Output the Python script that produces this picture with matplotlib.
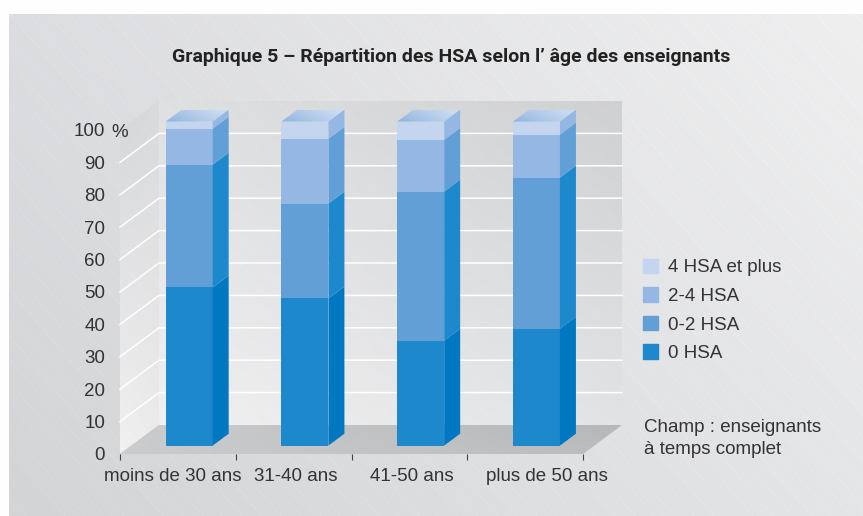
import numpy as np
import matplotlib
matplotlib.use('Agg')
import matplotlib.pyplot as plt
from matplotlib.patches import Patch, Polygon
from matplotlib.colors import to_rgb

categories = ['moins de 30 ans', '31-40 ans', '41-50 ans', 'plus de 50 ans']
hsa_0 = [48.8, 45.4, 32.4, 36.1]
hsa_0_2 = [37.9, 29.3, 46.0, 46.6]
hsa_2_4 = [11.1, 20.0, 16.0, 13.3]
hsa_4_plus = [2.2, 5.3, 5.6, 4.0]
series_names = ['0 HSA', '0-2 HSA', '2-4 HSA', '4 HSA et plus']
y_ticks = [0, 10, 20, 30, 40, 50, 60, 70, 80, 90, 100]

plt.rcParams['font.family'] = ['Liberation Sans', 'DejaVu Sans']
TXT = '#333333'

# couleurs face avant / cote
front = ['#1e88cc', '#629fd6', '#94b8e3', '#c4d6ef']
side = ['#0078c1', '#1e88cc', '#629fd6', '#94b8e3']

W, H = 863, 516
PX_X, PX_Y = 115.75, 3.24        # pixels par categorie / par point de %
LEFT, ZERO = 120, 454
DX, DY = 39 / PX_X, 29 / PX_Y    # decalage de la profondeur 3D
D0, D_BAR = 0.29, 0.41
BAR_W = 0.406


def shade(tl, tr, bl, br, w, h, streak=4.0):
    # degrade bilineaire + fines rayures diagonales
    yy, xx = np.mgrid[0:h, 0:w]
    u = (xx / max(w - 1, 1))[..., None]
    v = (yy / max(h - 1, 1))[..., None]
    tl, tr, bl, br = [np.array(to_rgb(c)) for c in (tl, tr, bl, br)]
    img = (1 - v) * ((1 - u) * tl + u * tr) + v * ((1 - u) * bl + u * br)
    if streak:
        k = (xx * 1.17 - yy) % 23
        mask = (k < 1.0)[..., None]
        img = np.clip(img + mask * streak / 255, 0, 1)
    return img


fig = plt.figure(figsize=(W / 100, H / 100), dpi=100, facecolor='#fefefe')
fig.figimage(shade('#dcdde0', '#efeff0', '#d3d4d6', '#e4e5e7', W - 9, H - 14, 5),
             xo=9, yo=0, origin='upper', zorder=0)

# axe de fond pleine figure, meme echelle que l'axe principal
bg = fig.add_axes([0, 0, 1, 1], zorder=1)
bg.patch.set_visible(False)
bg.set_axis_off()
bg.set_xlim(-LEFT / PX_X, (W - LEFT) / PX_X)
bg.set_ylim(-(H - ZERO) / PX_Y, ZERO / PX_Y)


def grad_poly(xs, ys, img, zorder=1):
    im = bg.imshow(img, extent=(min(xs), max(xs), min(ys), max(ys)),
                   origin='upper', aspect='auto', interpolation='bilinear',
                   zorder=zorder)
    im.set_clip_path(Polygon(np.c_[xs, ys], closed=True, transform=bg.transData))


# mur du fond
grad_poly([DX, 4 + DX, 4 + DX, DX], [DY, DY, 100 + DY, 100 + DY],
          shade('#dfe0e2', '#cfd0d1', '#f0f0f1', '#e2e3e4', 464, 324, 3))
# mur de gauche
grad_poly([0, DX, DX, 0], [0, DY, 100 + DY, 100],
          shade('#d5d6d8', '#d9dadb', '#f1f1f2', '#ececed', 39, 353, 3))
# sol
grad_poly([0, 4, 4 + DX, DX], [0, 0, DY, DY],
          shade('#cbccce', '#b6b7b9', '#cbccce', '#bbbcbe', 503, 29, 0))

for v in y_ticks[1:-1]:
    bg.plot([0, DX, 4 + DX], [v, v + DY, v + DY], color='white', lw=1.1, zorder=2,
            solid_joinstyle='miter')

# dessus des barres (degrade)
for i in range(len(categories)):
    x0 = i + 0.5 - BAR_W / 2 + D0 * DX
    y0 = 100 + D0 * DY
    xs = [x0, x0 + BAR_W, x0 + BAR_W + D_BAR * DX, x0 + D_BAR * DX]
    ys = [y0, y0, y0 + D_BAR * DY, y0 + D_BAR * DY]
    img = shade('#a7c3e6', '#cfdff2', '#8db4e0', '#c4d6ef', 63, 12, 0)
    grad_poly(xs, ys, img, zorder=3)

# axe principal : barres empilees
ax = fig.add_axes([LEFT / W, (H - ZERO) / H, 4 * PX_X / W, 100 * PX_Y / H], zorder=2)
ax.patch.set_visible(False)
ax.set_xlim(0, 4)
ax.set_ylim(0, 100)
for s in ax.spines.values():
    s.set_visible(False)

x = np.arange(len(categories)) + 0.5 + D0 * DX
bottom = np.full(len(categories), D0 * DY)
for vals, name, cf, cs in zip([hsa_0, hsa_0_2, hsa_2_4, hsa_4_plus], series_names, front, side):
    vals = np.array(vals)
    ax.bar(x, vals, BAR_W, bottom=bottom, color=cf, label=name, clip_on=False, zorder=3)
    for xi, b, t in zip(x, bottom, bottom + vals):
        r = xi + BAR_W / 2
        ax.fill([r, r + D_BAR * DX, r + D_BAR * DX, r],
                [b, b + D_BAR * DY, t + D_BAR * DY, t],
                color=cs, lw=0, clip_on=False, zorder=3)
    bottom = bottom + vals

ax.set_yticks(y_ticks)
ax.set_yticklabels([str(v) for v in y_ticks], fontsize=13.5, color=TXT)
ax.tick_params(axis='y', length=0, pad=10.8)
ax.text(8 / PX_X, 99.2, '%', ha='right', va='center', fontsize=13.5, color=TXT, clip_on=False)

ax.set_xticks([0, 1, 2, 3, 4])
ax.set_xticklabels([])
ax.tick_params(axis='x', length=4.3, width=0.8, color='#444444', direction='out')
label_pos = [0.458, 1.52, 2.52, 3.69]
for p, c in zip(label_pos, categories):
    ax.text(p, -7.0, c, ha='center', va='center', fontsize=13.5, color=TXT, clip_on=False)

handles = [Patch(color=c) for c in front[::-1]]
ax.legend(handles, series_names[::-1], frameon=False, fontsize=13.5, labelcolor=TXT,
          loc='upper left', bbox_to_anchor=(639 / W, 1 - 255 / H), bbox_transform=fig.transFigure,
          handlelength=0.8, handleheight=0.8, handletextpad=0.55, labelspacing=0.58,
          borderpad=0.2, borderaxespad=0)

fig.text(644 / W, 1 - 427.5 / H, 'Champ : enseignants', fontsize=13.5, color=TXT, va='center')
fig.text(644 / W, 1 - 450 / H, 'à temps complet', fontsize=13.5, color=TXT, va='center')

fig.text(451 / W, 1 - 57.5 / H, "Graphique 5 – Répartition des HSA selon l’ âge des enseignants",
         ha='center', va='center', fontsize=14, fontweight='bold', color='#222222',
         family=['Roboto', 'Liberation Sans'])

fig.savefig('out.png', dpi=100, facecolor=fig.get_facecolor())
